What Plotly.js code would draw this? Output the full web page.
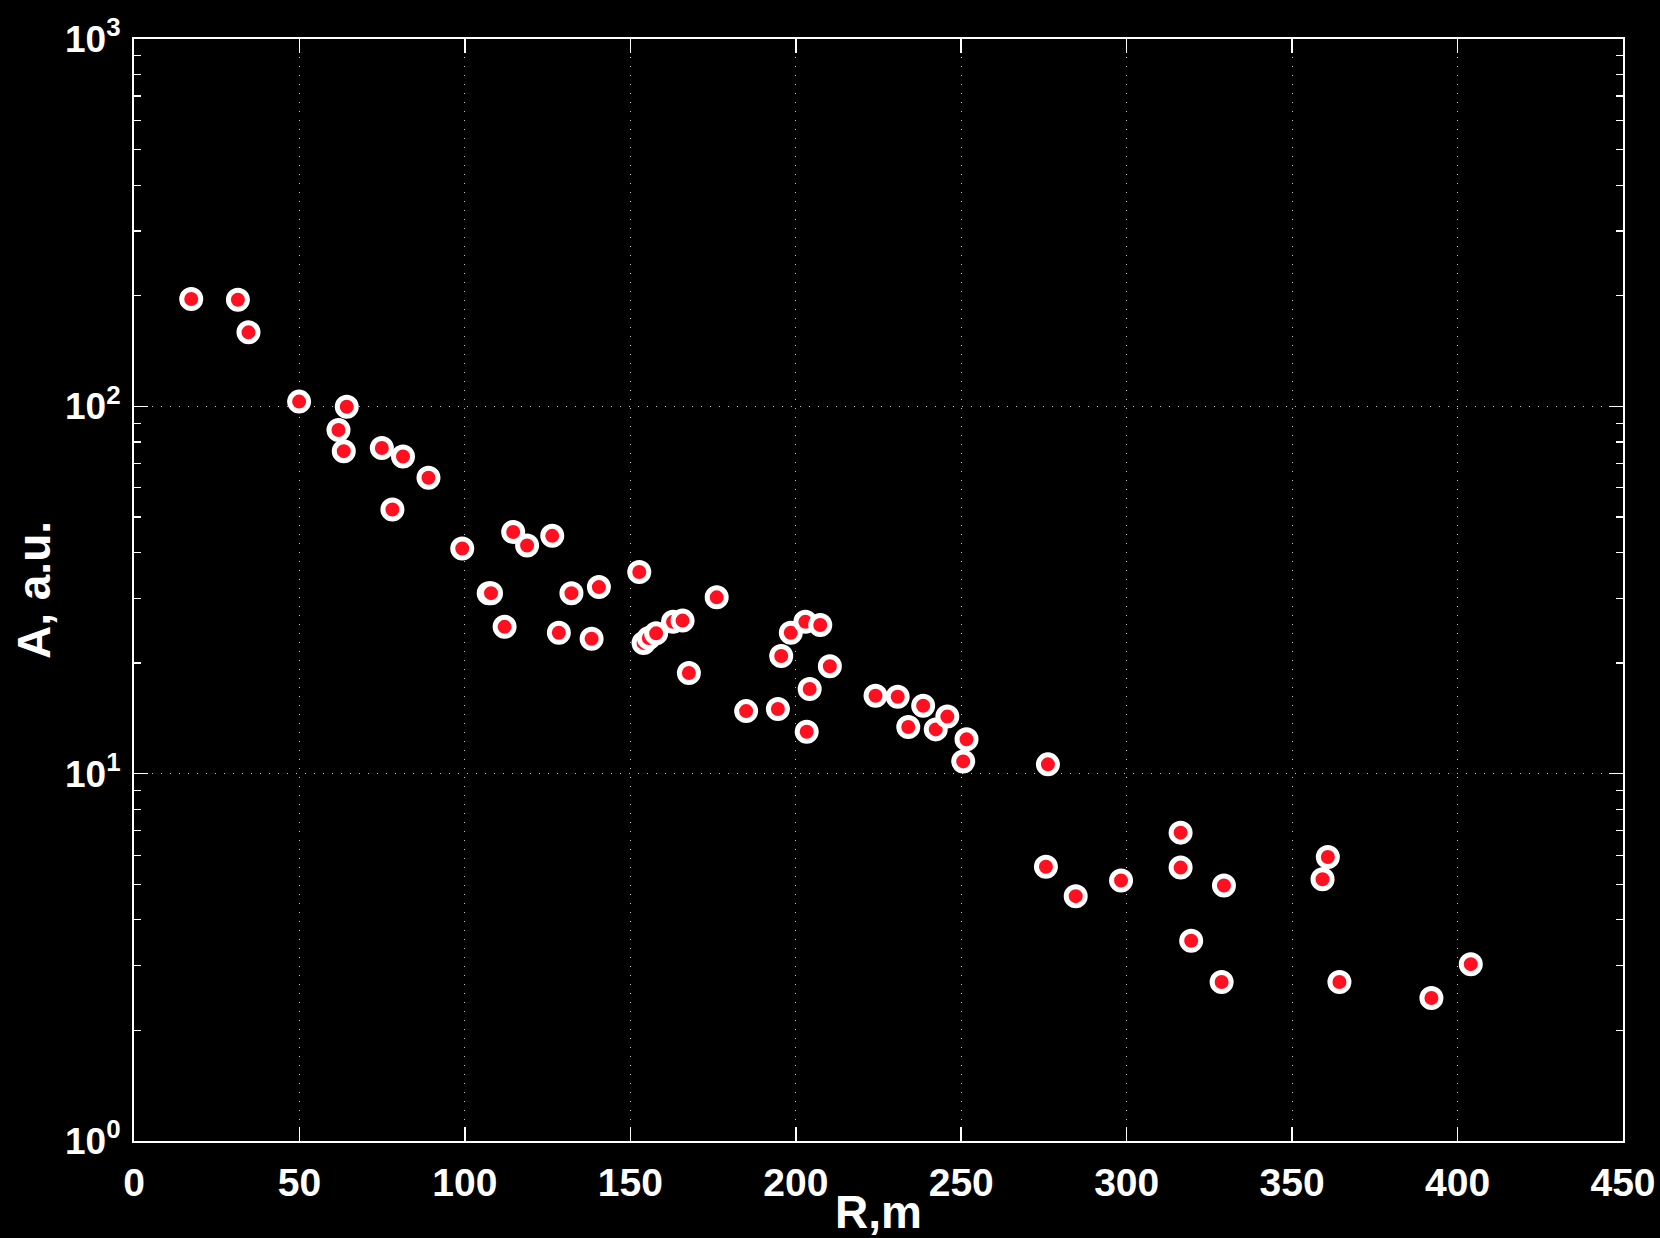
<!DOCTYPE html>
<html>
<head>
<meta charset="utf-8">
<script src="https://cdn.plot.ly/plotly-3.0.1.min.js"></script>
<style>
html,body{margin:0;padding:0;background:#000;}
#chart{width:1660px;height:1238px;}
</style>
</head>
<body>
<div id="chart"></div>
<script>
// Distance R (m)
const distanceR = [
  17.3, 31.4, 34.6, 49.9, 64.3, 61.8, 63.4, 74.9, 81.3, 89.0,
  78.1, 99.2, 114.6, 118.8, 126.4, 107.2, 107.9, 112.0, 132.2, 140.5,
  128.4, 138.3, 152.7, 154.0, 155.6, 157.8, 162.9, 165.8, 167.7, 176.1,
  185.0, 194.6, 195.6, 198.5, 202.9, 207.4, 204.2, 203.3, 210.3, 224.1,
  230.8, 234.0, 238.5, 242.3, 245.8, 251.6, 250.6, 276.2, 275.6, 284.6,
  298.3, 316.3, 316.3, 319.5, 329.4, 328.7, 359.2, 360.8, 364.3, 392.1,
  404.0
];
// Amplitude A (a.u.)
const amplitudeA = [
  196, 195, 159, 103, 99.7, 86.2, 75.5, 77, 73, 63.9,
  52.4, 41, 45.5, 41.8, 44.4, 31, 31, 25.1, 31, 32.2,
  24.2, 23.3, 35.4, 22.7, 23.4, 24.1, 25.9, 26.1, 18.8, 30.2,
  14.8, 15.0, 20.9, 24.2, 25.9, 25.4, 17.0, 13.0, 19.6, 16.3,
  16.2, 13.4, 15.3, 13.2, 14.3, 12.4, 10.8, 10.6, 5.58, 4.64,
  5.12, 6.91, 5.55, 3.51, 4.96, 2.71, 5.16, 5.93, 2.71, 2.45,
  3.03
];
const xTickVals = [0, 50, 100, 150, 200, 250, 300, 350, 400, 450];
const yTickVals = [1, 10, 100, 1000];
const yTickText = ['10<sup>0</sup>', '10<sup>1</sup>', '10<sup>2</sup>', '10<sup>3</sup>'];
const xLabel = 'R,m';
const yLabel = 'A, a.u.';

const fontFam = '"Liberation Sans", Arial, Helvetica, sans-serif';

const trace = {
  x: distanceR,
  y: amplitudeA,
  type: 'scatter',
  mode: 'markers',
  marker: {
    size: 19,
    color: '#ff1020',
    line: {color: '#ffffff', width: 5}
  },
  hoverinfo: 'x+y'
};

const layout = {
  width: 1660,
  height: 1238,
  paper_bgcolor: '#000000',
  plot_bgcolor: '#000000',
  showlegend: false,
  margin: {l: 134, r: 37, t: 39, b: 97, pad: 0},
  font: {family: fontFam, color: '#ffffff', size: 39, weight: 'bold'},
  xaxis: {
    range: [0, 450],
    tickmode: 'array',
    tickvals: xTickVals,
    ticks: 'inside',
    ticklen: 14,
    tickwidth: 1.5,
    tickcolor: '#ffffff',
    showline: true,
    linecolor: '#ffffff',
    linewidth: 2,
    mirror: 'allticks',
    showgrid: true,
    gridcolor: 'rgba(255,255,255,0.75)',
    gridwidth: 1,
    griddash: '1px,8px',
    zeroline: false,
    tickfont: {family: fontFam, size: 39, color: '#ffffff', weight: 'bold'},
    ticklabelstandoff: 6,
    title: {text: xLabel, font: {family: fontFam, size: 46, color: '#ffffff', weight: 'bold'}, standoff: 4}
  },
  yaxis: {
    type: 'log',
    range: [0, 3],
    tickmode: 'array',
    tickvals: yTickVals,
    ticktext: yTickText,
    ticks: 'inside',
    ticklen: 14,
    tickwidth: 1.5,
    tickcolor: '#ffffff',
    showline: true,
    linecolor: '#ffffff',
    linewidth: 2,
    mirror: 'allticks',
    showgrid: true,
    gridcolor: 'rgba(255,255,255,0.75)',
    gridwidth: 1,
    griddash: '1px,8px',
    zeroline: false,
    minor: {dtick: 'D1', ticks: 'inside', ticklen: 7, tickcolor: '#ffffff', tickwidth: 1.2, showgrid: false},
    tickfont: {family: fontFam, size: 37, color: '#ffffff', weight: 'bold'},
    ticklabelstandoff: 4,
    title: {text: yLabel, font: {family: fontFam, size: 46, color: '#ffffff', weight: 'bold'}, standoff: 0}
  }
};

Plotly.newPlot('chart', [trace], layout, {displayModeBar: false, staticPlot: true});
</script>
</body>
</html>
